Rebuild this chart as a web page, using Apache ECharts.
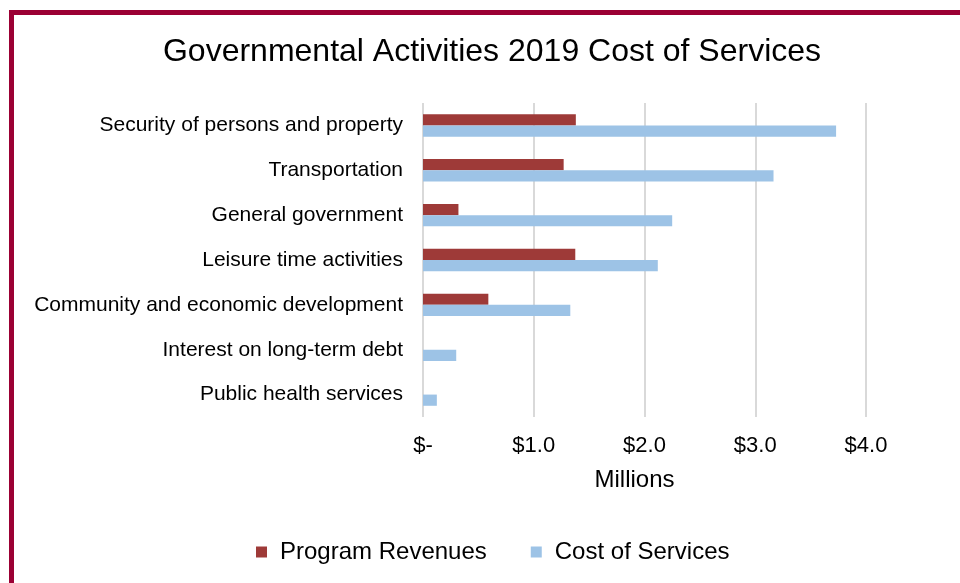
<!DOCTYPE html>
<html>
<head>
<meta charset="utf-8">
<script src="https://cdn.jsdelivr.net/npm/echarts@6/dist/echarts.min.js"></script>
<style>
html,body{margin:0;padding:0;background:#fff;}
#wrap{position:relative;width:960px;height:583px;}
#chart{position:absolute;left:0;top:0;width:960px;height:583px;}
#frame{position:absolute;left:9px;top:10px;width:951px;height:573px;box-sizing:border-box;border-top:5px solid #9B0034;border-left:5px solid #9B0034;pointer-events:none;}
</style>
</head>
<body>
<div id="wrap"><div id="chart"></div><div id="frame"></div></div>
<script>
const categories = [
  "Security of persons and property",
  "Transportation",
  "General government",
  "Leisure time activities",
  "Community and economic development",
  "Interest on long-term debt",
  "Public health services"
];
const programRevenues = [1.38, 1.27, 0.32, 1.375, 0.59, 0, 0];
const costOfServices = [3.73, 3.165, 2.25, 2.12, 1.33, 0.30, 0.125];
const seriesNames = ["Program Revenues", "Cost of Services"];
const titleText = "Governmental Activities 2019 Cost of Services";
const axisName = "Millions";

const font = "Liberation Sans";
const chart = echarts.init(document.getElementById('chart'), null, {renderer: 'canvas'});
chart.setOption({
  animation: false,
  backgroundColor: '#ffffff',
  title: {
    text: titleText,
    left: 487, textAlign: 'center', top: 31,
    textStyle: {fontFamily: font, fontSize: 32, fontWeight: 'normal', color: '#000000'}
  },
  legend: {
    data: seriesNames,
    left: 251, top: 535,
    itemWidth: 11, itemHeight: 11, itemGap: 44,
    icon: 'rect',
    textStyle: {fontFamily: font, fontSize: 24, color: '#000000', padding: [0, 0, 0, 8]}
  },
  grid: {left: 423, right: 94, top: 103, bottom: 166, containLabel: false},
  xAxis: {
    type: 'value', min: 0, max: 4, interval: 1,
    name: axisName, nameLocation: 'middle', nameGap: 51,
    nameTextStyle: {fontFamily: font, fontSize: 24, color: '#000000', padding: [0, 20, 0, 0]},
    axisLine: {show: false}, axisTick: {show: false},
    axisLabel: {
      fontFamily: font, fontSize: 22, color: '#000000', margin: 18,
      formatter: v => v === 0 ? '$-' : '$' + v.toFixed(1)
    },
    splitLine: {show: true, lineStyle: {color: '#D9D9D9', width: 2}}
  },
  yAxis: {
    type: 'category', data: categories, inverse: true,
    axisLine: {show: false}, axisTick: {show: false},
    axisLabel: {fontFamily: font, fontSize: 21, color: '#000000', margin: 20}
  },
  series: [
    {name: seriesNames[0], type: 'bar', data: programRevenues, barGap: '0%', barCategoryGap: '50%',
     itemStyle: {color: '#9E3A38'}},
    {name: seriesNames[1], type: 'bar', data: costOfServices, barGap: '0%', barCategoryGap: '50%',
     itemStyle: {color: '#9DC3E6'}}
  ]
});
</script>
</body>
</html>
